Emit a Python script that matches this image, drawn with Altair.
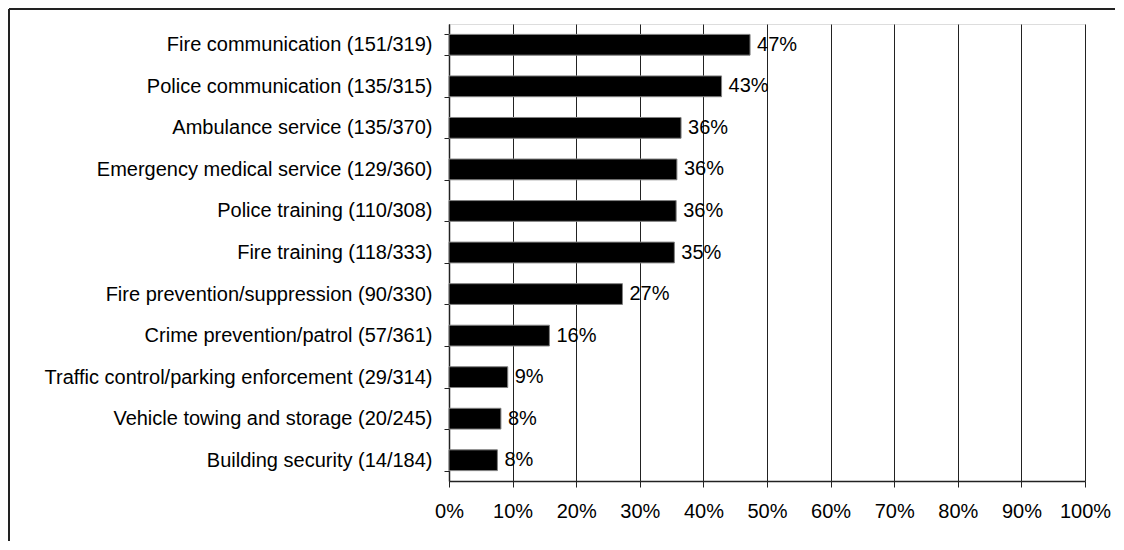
import altair as alt
import pandas as pd

names = [
    "Fire communication",
    "Police communication",
    "Ambulance service",
    "Emergency medical service",
    "Police training",
    "Fire training",
    "Fire prevention/suppression",
    "Crime prevention/patrol",
    "Traffic control/parking enforcement",
    "Vehicle towing and storage",
    "Building security",
]
numerators = [151, 135, 135, 129, 110, 118, 90, 57, 29, 20, 14]
denominators = [319, 315, 370, 360, 308, 333, 330, 361, 314, 245, 184]
x_ticks = [0.0, 0.1, 0.2, 0.3, 0.4, 0.5, 0.6, 0.7, 0.8, 0.9, 1.0]

labels = [f"{n} ({a}/{b})" for n, a, b in zip(names, numerators, denominators)]
pct = [a / b for a, b in zip(numerators, denominators)]
df = pd.DataFrame({
    "label": labels,
    "pct": pct,
    "txt": [f"{round(p * 100):.0f}%" for p in pct],
})

FONT = "Liberation Sans"
W, H = 636, 457

base = alt.Chart(df)

y_enc = alt.Y(
    "label:N",
    sort=labels,
    title=None,
    scale=alt.Scale(paddingInner=0.5, paddingOuter=0.25),
    axis=alt.Axis(
        labelFontSize=20, labelFont=FONT, labelColor="black",
        labelLimit=600, labelPadding=12,
        tickSize=5, tickColor="#222", tickBand="extent",
        domainColor="#222", domainWidth=1.5, grid=False,
    ),
)

x_enc = alt.X(
    "pct:Q",
    title=None,
    scale=alt.Scale(domain=[0, 1], nice=False),
    axis=alt.Axis(
        values=x_ticks, format=".0%",
        labelFontSize=20, labelFont=FONT, labelColor="black",
        labelPadding=14, labelFlush=False, labelOverlap=False,
        tickSize=6, tickColor="#222", domainColor="#222", domainWidth=1.5,
        grid=True, gridColor="#222", gridWidth=1,
    ),
)

bars = base.mark_bar(color="black", stroke="#808080", strokeWidth=1).encode(
    x=x_enc, y=y_enc
)

text = base.mark_text(
    align="left", baseline="middle", dx=7, fontSize=20, font=FONT, color="black"
).encode(
    x=alt.X("pct:Q"), y=alt.Y("label:N", sort=labels), text="txt:N"
)

frame_data = alt.Data(values=[{"k": 0}])
frame_left = alt.Chart(frame_data).mark_rule(color="#222", strokeWidth=2).encode(
    x=alt.value(-440), y=alt.value(-15), y2=alt.value(H + 80)
)
frame_top = alt.Chart(frame_data).mark_rule(color="#222", strokeWidth=2).encode(
    x=alt.value(-440), x2=alt.value(W + 60), y=alt.value(-15)
)

chart = alt.layer(bars, text, frame_left, frame_top).properties(
    width=W, height=H,
    autosize=alt.AutoSizeParams(type="none"),
    padding={"left": 441, "top": 16, "right": 30, "bottom": 60},
).configure_view(
    stroke="#808080", strokeWidth=2
).configure(background="white")

chart.save("out.html", embed_options={"renderer": "svg", "actions": False})
